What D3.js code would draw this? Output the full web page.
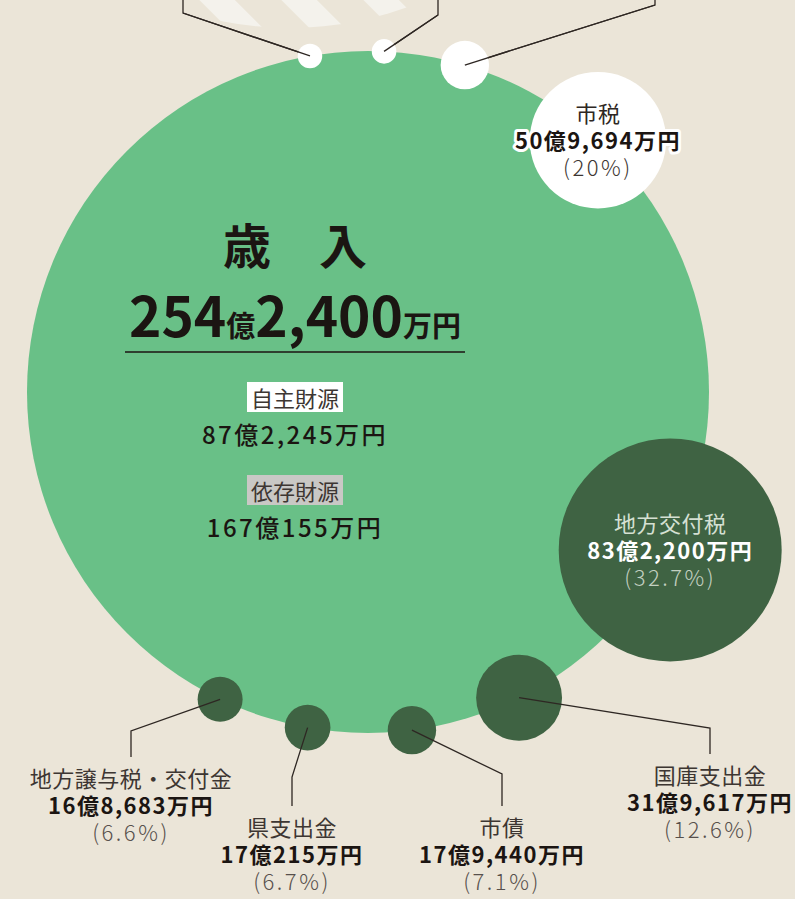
<!DOCTYPE html>
<html>
<head>
<meta charset="utf-8">
<script src="https://cdn.jsdelivr.net/npm/d3@7"></script>
<style>
  body { margin: 0; background: #ebe5d8; }
  svg { display: block; font-family: "Noto Sans CJK JP", "Noto Sans", sans-serif; }
</style>
</head>
<body>
<div id="container"></div>
<script>
let w = 795;
let h = 899;

// 歳入の合計と内訳
let title = "歳　入";
let totalAmount = ["254", "億", "2,400", "万円"];
let groupNames = ["自主財源", "依存財源"];
let groupAmounts = ["87億2,245万円", "167億155万円"];

// labelled items (share in %)
let names = ["市税", "地方交付税", "国庫支出金", "市債", "県支出金", "地方譲与税・交付金"];
let amounts = ["50億9,694万円", "83億2,200万円", "31億9,617万円", "17億9,440万円", "17億215万円", "16億8,683万円"];
let shares = [20, 32.7, 12.6, 7.1, 6.7, 6.6];
let shareLabels = ["(20%)", "(32.7%)", "(12.6%)", "(7.1%)", "(6.7%)", "(6.6%)"];
let groups = ["自主", "依存", "依存", "依存", "依存", "依存"];

// other 自主財源 items, their labels are above the cropped top edge
let otherShares = [3.6, 3.6, 7.1];

// layout: where each bubble sits on the rim of the big circle (degrees)
let angles = [-47.6, 27.6, 63.7, 82.6, 100.2, 115.7];
let otherAngles = [-99.8, -87.3, -73.5];
// leader line elbows for the outside labels: [x, y, end of vertical]
let elbows = [null, null, [710, 728, 754], [502, 774, 806], [292, 777, 806], [131, 731, 757]];
let otherElbows = [[183, 13], [438, 15], [655, 5]];

let bg = "#ebe5d8";
let light = "#69c087";
let dark = "#3f6343";

let viz = d3.select("#container").append("svg")
  .attr("width", w)
  .attr("height", h)
  .style("background-color", bg);

let cx = 368, cy = 392;
let rScale = d3.scaleLinear().domain([0, 100]).range([0, 341]);
let R = rScale(100);

function onRim(angle) {
  let a = angle * Math.PI / 180;
  return [cx + R * Math.cos(a), cy + R * Math.sin(a)];
}

// striped circle above (歳出), only its bottom shows
let defs = viz.append("defs");
let pat = defs.append("pattern")
  .attr("id", "stripes")
  .attr("patternUnits", "userSpaceOnUse")
  .attr("width", 58).attr("height", 58)
  .attr("patternTransform", "rotate(-45)");
pat.append("rect").attr("width", 58).attr("height", 58).attr("fill", bg);
pat.append("rect").attr("x", 25).attr("width", 25).attr("height", 58).attr("fill", "#f4f2ec");

viz.append("circle")
  .attr("cx", 290).attr("cy", -313)
  .attr("r", R)
  .attr("fill", "url(#stripes)");

// big circle
viz.append("circle")
  .attr("cx", cx).attr("cy", cy)
  .attr("r", R)
  .attr("fill", light);

let lineColor = "#2e2723";

// leader lines for the top white bubbles
otherShares.forEach(function(s, i) {
  let p = onRim(otherAngles[i]);
  let e = otherElbows[i];
  viz.append("polyline")
    .attr("points", [p, e, [e[0], -5]].map(d => d.join(",")).join(" "))
    .attr("fill", "none")
    .attr("stroke", lineColor)
    .attr("stroke-width", 1.3);
});

// bubbles
viz.selectAll(".other").data(otherShares).enter()
  .append("circle")
  .attr("class", "other")
  .attr("cx", (d, i) => onRim(otherAngles[i])[0])
  .attr("cy", (d, i) => onRim(otherAngles[i])[1])
  .attr("r", d => rScale(d))
  .attr("fill", "white");

// line tips drawn again over the white bubbles
otherShares.forEach(function(s, i) {
  let p = onRim(otherAngles[i]);
  let e = otherElbows[i];
  viz.append("line")
    .attr("x1", p[0]).attr("y1", p[1])
    .attr("x2", e[0]).attr("y2", e[1])
    .attr("stroke", lineColor)
    .attr("stroke-width", 1.3);
});

viz.selectAll(".item").data(shares).enter()
  .append("circle")
  .attr("class", "item")
  .attr("cx", (d, i) => onRim(angles[i])[0])
  .attr("cy", (d, i) => onRim(angles[i])[1])
  .attr("r", d => rScale(d))
  .attr("fill", (d, i) => groups[i] == "自主" ? "white" : dark);

// leader lines for the bottom labels
shares.forEach(function(s, i) {
  if (!elbows[i]) return;
  let p = onRim(angles[i]);
  let e = elbows[i];
  viz.append("polyline")
    .attr("points", [p, [e[0], e[1]], [e[0], e[2]]].map(d => d.join(",")).join(" "))
    .attr("fill", "none")
    .attr("stroke", lineColor)
    .attr("stroke-width", 1.3);
});

// three line label in one text: name / amount / share
function addLabel(x, y, i, colors) {
  let t = viz.append("text")
    .attr("text-anchor", "middle");
  t.append("tspan")
    .attr("x", x).attr("y", y)
    .attr("dominant-baseline", "central")
    .style("font-size", "22px")
    .style("letter-spacing", "0.5px")
    .attr("fill", colors[0])
    .text(names[i]);
  let amt = t.append("tspan")
    .attr("x", x).attr("y", y + 27)
    .attr("dominant-baseline", "central")
    .style("font-size", "22px")
    .style("letter-spacing", "1.5px")
    .style("font-weight", "bold")
    .attr("fill", colors[1])
    .text(amounts[i]);
  if (colors[3]) {
    amt.attr("stroke", colors[3]).attr("stroke-width", 6)
      .attr("stroke-linejoin", "round")
      .style("paint-order", "stroke");
  }
  t.append("tspan")
    .attr("x", x).attr("y", y + 54)
    .attr("dominant-baseline", "central")
    .style("font-size", "22px")
    .style("letter-spacing", "2.5px")
    .style("font-weight", 300)
    .attr("fill", colors[2])
    .text(shareLabels[i]);
}

let outside = ["#3d3632", "#1b1512", "#57504c"];
shares.forEach(function(s, i) {
  let p = onRim(angles[i]);
  if (groups[i] == "自主") {
    addLabel(p[0], p[1] - 28, i, ["#2e2723", "#1b1512", "#3d3632", "white"]);
  } else if (elbows[i] == null) {
    addLabel(p[0], p[1] - 28, i, ["#d5e0d3", "white", "#c3d0c1"]);
  } else {
    addLabel(elbows[i][0], elbows[i][2] + 20, i, outside);
  }
});

// center text
let midX = 295;
viz.append("text")
  .attr("x", midX).attr("y", 243)
  .attr("text-anchor", "middle")
  .attr("dominant-baseline", "central")
  .style("font-size", "48px")
  .style("font-weight", "bold")
  .attr("fill", "#1b1512")
  .text(title);

let tot = viz.append("text")
  .attr("x", midX).attr("y", 337)
  .attr("text-anchor", "middle")
  .style("font-weight", "bold")
  .attr("fill", "#1b1512");
totalAmount.forEach(function(t, i) {
  tot.append("tspan")
    .style("font-size", i % 2 == 0 ? "55px" : "29px")
    .text(t);
});

viz.append("line")
  .attr("x1", 125).attr("x2", 465)
  .attr("y1", 352).attr("y2", 352)
  .attr("stroke", "#1b1512")
  .attr("stroke-width", 1.6);

let boxFill = ["white", "#c9c8c5"];
groupNames.forEach(function(n, i) {
  let y = 397 + i * 93;
  let box = viz.append("rect").attr("fill", boxFill[i]);
  let t = viz.append("text")
    .attr("x", midX).attr("y", y)
    .attr("text-anchor", "middle")
    .attr("dominant-baseline", "central")
    .style("font-size", "22px")
    .attr("fill", "#3d3632")
    .text(n);
  let b = t.node().getBBox();
  box.attr("x", b.x - 4).attr("y", y - 15)
    .attr("width", b.width + 8).attr("height", 30);
  viz.append("text")
    .attr("x", midX).attr("y", y + 36)
    .attr("text-anchor", "middle")
    .attr("dominant-baseline", "central")
    .style("font-size", "24px")
    .style("letter-spacing", "2.5px")
    .style("font-weight", 500)
    .attr("fill", "#1b1512")
    .text(groupAmounts[i]);
});
</script>
</body>
</html>
